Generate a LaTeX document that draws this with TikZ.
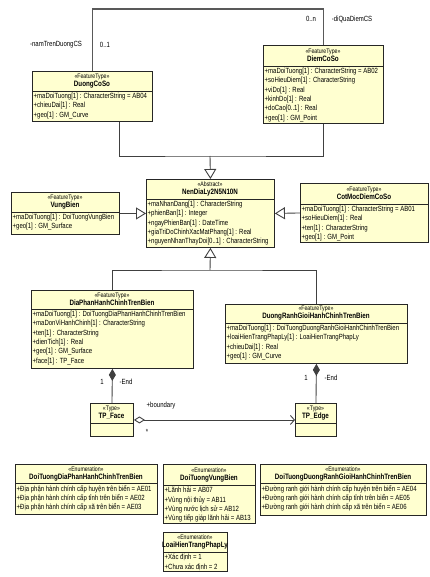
\documentclass[tikz,border=0pt]{standalone}
\usepackage{fontspec}
\setmainfont{Liberation Sans}[FakeStretch=0.8]
\usetikzlibrary{arrows.meta}
\definecolor{umlfill}{RGB}{255,255,208}

\begin{document}
\begin{tikzpicture}[x=1pt, y=-1pt,
  cls/.style = {draw=black!85, fill=umlfill, line width=0.9pt, inner sep=0pt, anchor=north west},
  sep/.style = {draw=black!85, line width=0.9pt},
  head/.style = {align=center, inner sep=0pt, font=\fontsize{7.8}{8}\selectfont},
  attr/.style = {anchor=north west, align=left, inner sep=0pt, font=\fontsize{7.5}{9.3}\selectfont},
  lbl/.style = {inner sep=0pt, font=\fontsize{7.5}{8}\selectfont},
  conn/.style = {draw=black!75, line width=0.9pt},
  gen/.style = {conn, -{Triangle[open, length=10pt, width=12pt]}},
  comp/.style = {conn, {Diamond[length=12pt, width=7pt]}-}]
\useasboundingbox (0,0) rectangle (430,577);

% classes
\node[cls, minimum width=120, minimum height=50] (duongcs) at (32,71) {};
\draw[sep] (duongcs.west |- 0,91) -- (duongcs.east |- 0,91);
\node[head] at (92,81) {{\fontsize{6.5}{8}\selectfont «FeatureType»}\\\textbf{DuongCoSo}};
\node[attr] at (33.5,93) {+maDoiTuong[1] : CharacterString = AB04\\+chieuDai[1] : Real\\+geo[1] : GM\_Curve};

\node[cls, minimum width=120, minimum height=78] (diemcs) at (263,45) {};
\draw[sep] (diemcs.west |- 0,66) -- (diemcs.east |- 0,66);
\node[head] at (323,55.5) {{\fontsize{6.5}{8}\selectfont «FeatureType»}\\\textbf{DiemCoSo}};
\node[attr] at (264.5,68) {+maDoiTuong[1] : CharacterString = AB02\\+soHieuDiem[1] : CharacterString\\+viDo[1] : Real\\+kinhDo[1] : Real\\+doCao[0..1] : Real\\+geo[1] : GM\_Point};

\node[cls, minimum width=108, minimum height=42] (vungbien) at (11,192) {};
\draw[sep] (vungbien.west |- 0,212) -- (vungbien.east |- 0,212);
\node[head] at (65,202) {{\fontsize{6.5}{8}\selectfont «FeatureType»}\\\textbf{VungBien}};
\node[attr] at (12.5,214) {+maDoiTuong[1] : DoiTuongVungBien\\+geo[1] : GM\_Surface};

\node[cls, minimum width=128, minimum height=68] (nendialy) at (146,179) {};
\draw[sep] (nendialy.west |- 0,199) -- (nendialy.east |- 0,199);
\node[head] at (210,189) {{\fontsize{6.5}{8}\selectfont «Abstract»}\\\textbf{NenDiaLy2N5N10N}};
\node[attr] at (147.5,201) {+maNhanDang[1] : CharacterString\\+phienBan[1] : Integer\\+ngayPhienBan[1] : DateTime\\+giaTriDoChinhXacMatPhang[1] : Real\\+nguyenNhanThayDoi[0..1] : CharacterString};

\node[cls, minimum width=128, minimum height=59] (cotmoc) at (300,183) {};
\draw[sep] (cotmoc.west |- 0,204) -- (cotmoc.east |- 0,204);
\node[head] at (364,193.5) {{\fontsize{6.5}{8}\selectfont «FeatureType»}\\\textbf{CotMocDiemCoSo}};
\node[attr] at (301.5,206) {+maDoiTuong[1] : CharacterString = AB01\\+soHieuDiem[1] : Real\\+ten[1] : CharacterString\\+geo[1] : GM\_Point};

\node[cls, minimum width=162, minimum height=78] (diaphan) at (31,290) {};
\draw[sep] (diaphan.west |- 0,309) -- (diaphan.east |- 0,309);
\node[head] at (112,299.5) {{\fontsize{6.5}{8}\selectfont «FeatureType»}\\\textbf{DiaPhanHanhChinhTrenBien}};
\node[attr] at (32.5,311) {+maDoiTuong[1] : DoiTuongDiaPhanHanhChinhTrenBien\\+maDonViHanhChinh[1] : CharacterString\\+ten[1] : CharacterString\\+dienTich[1] : Real\\+geo[1] : GM\_Surface\\+face[1] : TP\_Face};

\node[cls, minimum width=182, minimum height=59] (duongrg) at (225,304) {};
\draw[sep] (duongrg.west |- 0,323) -- (duongrg.east |- 0,323);
\node[head] at (316,313.5) {{\fontsize{6.5}{8}\selectfont «FeatureType»}\\\textbf{DuongRanhGioiHanhChinhTrenBien}};
\node[attr] at (226.5,325) {+maDoiTuong[1] : DoiTuongDuongRanhGioiHanhChinhTrenBien\\+loaiHienTrangPhapLy[1] : LoaiHienTrangPhapLy\\+chieuDai[1] : Real\\+geo[1] : GM\_Curve};

\node[cls, minimum width=43, minimum height=33] (tpface) at (90,403) {};
\draw[sep] (tpface.west |- 0,423) -- (tpface.east |- 0,423);
\node[head] at (111.5,413) {{\fontsize{6.5}{8}\selectfont «Type»}\\\textbf{TP\_Face}};

\node[cls, minimum width=41, minimum height=33] (tpedge) at (295,403) {};
\draw[sep] (tpedge.west |- 0,423) -- (tpedge.east |- 0,423);
\node[head] at (315.5,413) {{\fontsize{6.5}{8}\selectfont «Type»}\\\textbf{TP\_Edge}};

% enumerations
\node[cls, minimum width=142, minimum height=50] (enumdp) at (15,464) {};
\draw[sep] (enumdp.west |- 0,483) -- (enumdp.east |- 0,483);
\node[head] at (86,473.5) {{\fontsize{6.5}{8}\selectfont «Enumeration»}\\\textbf{DoiTuongDiaPhanHanhChinhTrenBien}};
\node[attr] at (16.5,485) {+Địa phận hành chính cấp huyện trên biển = AE01\\+Địa phận hành chính cấp tỉnh trên biển = AE02\\+Địa phận hành chính cấp xã trên biển = AE03};

\node[cls, minimum width=92, minimum height=59] (enumvb) at (163,464) {};
\draw[sep] (enumvb.west |- 0,485) -- (enumvb.east |- 0,485);
\node[head] at (209,474.5) {{\fontsize{6.5}{8}\selectfont «Enumeration»}\\\textbf{DoiTuongVungBien}};
\node[attr] at (164.5,487) {+Lãnh hải = AB07\\+Vùng nội thủy = AB11\\+Vùng nước lịch sử = AB12\\+Vùng tiếp giáp lãnh hải = AB13};

\node[cls, minimum width=166, minimum height=51] (enumrg) at (260,464) {};
\draw[sep] (enumrg.west |- 0,483) -- (enumrg.east |- 0,483);
\node[head] at (343,473.5) {{\fontsize{6.5}{8}\selectfont «Enumeration»}\\\textbf{DoiTuongDuongRanhGioiHanhChinhTrenBien}};
\node[attr] at (261.5,485) {+Đường ranh giới hành chính cấp huyện trên biển = AE04\\+Đường ranh giới hành chính cấp tỉnh trên biển = AE05\\+Đường ranh giới hành chính cấp xã trên biển = AE06};

\node[cls, minimum width=64, minimum height=39] (enumht) at (163,532) {};
\draw[sep] (enumht.west |- 0,552) -- (enumht.east |- 0,552);
\node[head] at (195,542) {{\fontsize{6.5}{8}\selectfont «Enumeration»}\\\textbf{LoaiHienTrangPhapLy}};
\node[attr] at (164.5,554) {+Xác định = 1\\+Chưa xác định = 2};

% associations
\draw[conn, line width=1.2pt, draw=black!65] (duongcs.north) -- ++(0,-62) -| (diemcs.north);
\node[lbl] at (56,45) {-namTrenDuongCS};
\node[lbl] at (105,45) {0..1};
\node[lbl] at (311,19) {0..n};
\node[lbl] at (352,19) {-diQuaDiemCS};

% generalizations
\coordinate (genTop) at (210,156);
\coordinate (genBot) at (210,270);
\draw[conn] ([xshift=27pt]duongcs.south) |- (genTop) -| (diemcs.south);
\draw[gen] (genTop) -- (nendialy.north);
\draw[gen] (vungbien.east) -- (nendialy.west);
\draw[gen] (cotmoc.west) -- (nendialy.east);
\draw[conn] (diaphan.north) |- (genBot) -| (duongrg.north);
\draw[gen] (genBot) -- (nendialy.south);

% topology
\draw[comp] (diaphan.south) -- (tpface.north);
\node[lbl] at (102,382) {1};
\node[lbl] at (126,382) {-End};
\draw[comp] (duongrg.south) -- (tpedge.north);
\node[lbl] at (306,378) {1};
\node[lbl] at (331,378) {-End};
\draw[conn, {Diamond[open, length=11pt, width=7pt]}-{Straight Barb[length=4pt, width=9pt]}] (tpface.east) -- (tpedge.west);
\node[lbl] at (161,406) {+boundary};
\node[lbl] at (147,432) {*};
\end{tikzpicture}
\end{document}
